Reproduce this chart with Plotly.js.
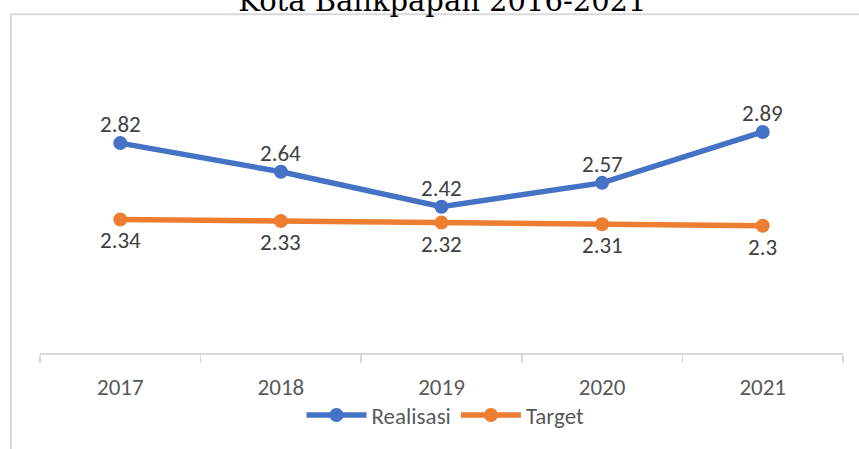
<!DOCTYPE html>
<html>
<head>
<meta charset="utf-8">
<script src="https://cdn.plot.ly/plotly-3.0.1.min.js"></script>
<style>html,body{margin:0;padding:0;background:#fff;}#chart{width:859px;height:449px;}</style>
</head>
<body>
<div id="chart"></div>
<script>
var years = ['2017', '2018', '2019', '2020', '2021'];
var realisasi = [2.82, 2.64, 2.42, 2.57, 2.89];
var target = [2.34, 2.33, 2.32, 2.31, 2.3];
var seriesNames = ['Realisasi', 'Target'];
var titleText = 'Kota Balikpapan 2016-2021';

var fam = 'Carlito, Calibri, "Open Sans", sans-serif';
var labelFont = {family: fam, size: 23, color: '#404040'};
var tickFont = {family: fam, size: 23, color: '#595959'};

var traces = [
  {
    x: years, y: realisasi, name: seriesNames[0], type: 'scatter', mode: 'lines+markers',
    line: {color: '#4472C4', width: 5.5}, marker: {color: '#4472C4', size: 14},
    cliponaxis: false, hoverinfo: 'x+y'
  },
  {
    x: years, y: target, name: seriesNames[1], type: 'scatter', mode: 'lines+markers',
    line: {color: '#ED7D31', width: 5.5}, marker: {color: '#ED7D31', size: 14},
    cliponaxis: false, hoverinfo: 'x+y'
  }
];

// data labels: x given as the category's serial index on the category axis
function labels(xs, ys, shift) {
  return xs.map(function (x, i) {
    return {
      x: i, y: ys[i], xref: 'x', yref: 'y', text: String(ys[i]), showarrow: false,
      yanchor: 'middle', xanchor: 'center', yshift: shift, font: labelFont
    };
  });
}

var layout = {
  width: 859, height: 449,
  margin: {l: 40, r: 16, t: 35, b: 94},
  paper_bgcolor: '#ffffff', plot_bgcolor: '#ffffff',
  title: {
    text: titleText, xref: 'container', yref: 'container', x: 0.515, y: 0.998, yanchor: 'middle',
    font: {family: 'DejaVu Serif, serif', size: 29, color: '#000000'}
  },
  xaxis: {
    type: 'category', range: [-0.5, 4.5], showgrid: false, zeroline: false,
    showline: true, linecolor: '#d9d9d9', linewidth: 1.5,
    ticks: 'outside', tickson: 'boundaries', ticklen: 8, tickcolor: '#d9d9d9', tickwidth: 1.5,
    ticklabelstandoff: 13,
    tickfont: tickFont, fixedrange: true
  },
  yaxis: {
    range: [1.5, 3.5], visible: false, showgrid: false, zeroline: false, fixedrange: true
  },
  showlegend: true,
  legend: {
    orientation: 'h', x: 0.505, xanchor: 'center', y: -0.195, yanchor: 'middle',
    font: tickFont, itemwidth: 60, bgcolor: 'rgba(0,0,0,0)'
  },
  annotations: labels(years, realisasi, 19).concat(labels(years, target, -21)),
  shapes: [{
    type: 'rect', xref: 'paper', yref: 'paper',
    x0: (11 - 40) / 803, x1: 1.2, y0: -0.5, y1: 1 + (35 - 14) / 320,
    line: {color: '#d9d9d9', width: 2}, fillcolor: 'rgba(0,0,0,0)', layer: 'below'
  }]
};

Plotly.newPlot('chart', traces, layout, {displayModeBar: false, staticPlot: true});
</script>
</body>
</html>
